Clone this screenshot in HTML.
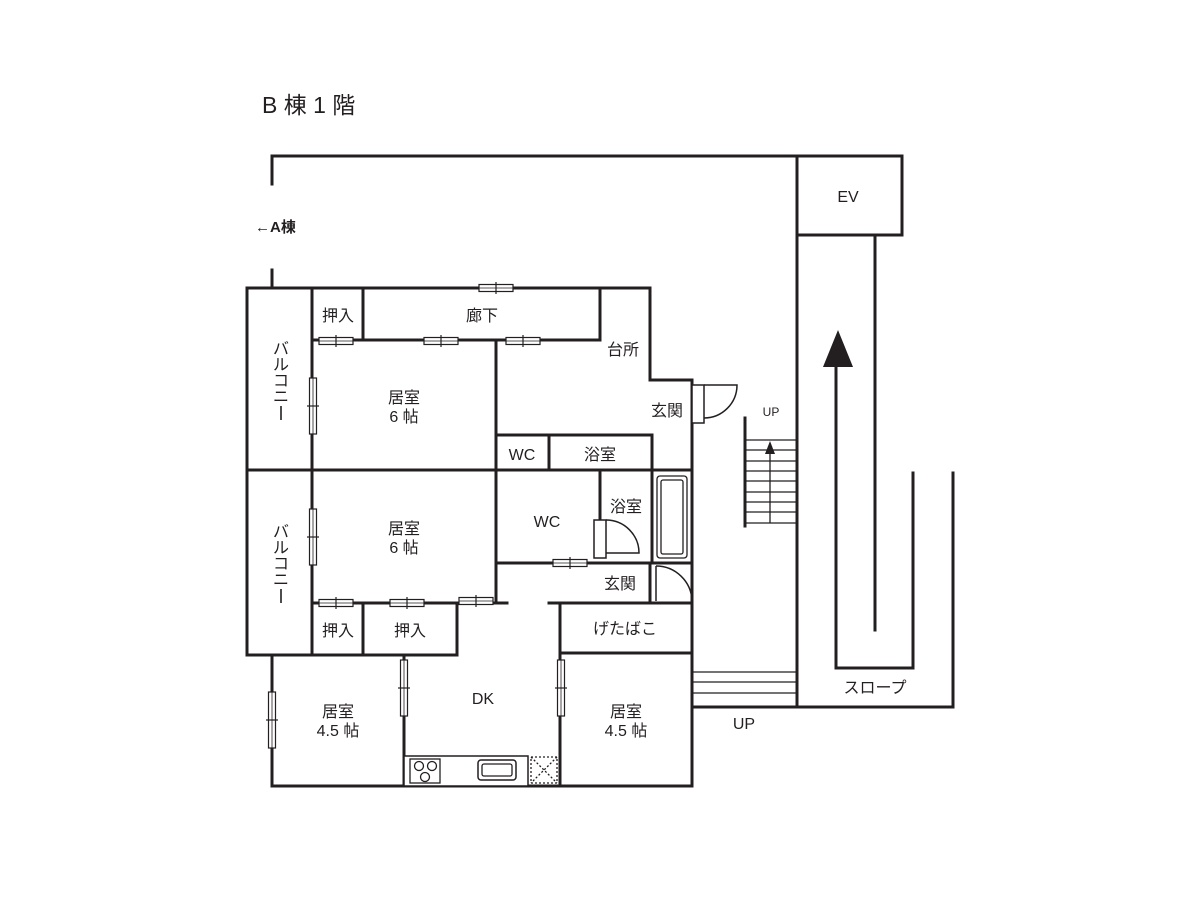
<!DOCTYPE html>
<html><head><meta charset="utf-8"><style>
html,body{margin:0;padding:0;background:#fff}
svg{display:block}
text{font-family:"Liberation Sans","Noto Sans CJK JP",sans-serif;fill:#231f20}
</style></head><body>
<svg width="1200" height="900" viewBox="0 0 1200 900" xmlns="http://www.w3.org/2000/svg">
<defs>
<g id="wh"><rect x="-17" y="-3.5" width="34" height="7" fill="#fff" stroke="#231f20" stroke-width="1.2"/><line x1="-17" y1="0" x2="17" y2="0" stroke="#231f20" stroke-width="0.8"/><line x1="0" y1="-6" x2="0" y2="6" stroke="#231f20" stroke-width="1.2"/></g>
<g id="wv"><rect x="-3.5" y="-28" width="7" height="56" fill="#fff" stroke="#231f20" stroke-width="1.2"/><line x1="0" y1="-28" x2="0" y2="28" stroke="#231f20" stroke-width="0.8"/><line x1="-6" y1="0" x2="6" y2="0" stroke="#231f20" stroke-width="1.2"/></g>
</defs>
<text x="262" y="113" font-size="23">B 棟 1 階</text>
<text x="255" y="232" font-size="15" font-weight="bold">←A棟</text>
<g stroke="#231f20" stroke-width="3" fill="none" stroke-linecap="square">
<polyline points="272,184 272,156 797,156"/>
<line x1="272" y1="270" x2="272" y2="288"/>
<rect x="797" y="156" width="105" height="79"/>
<line x1="797" y1="156" x2="797" y2="707"/>
<polyline points="692,707 953,707 953,473"/>
<line x1="875" y1="235" x2="875" y2="630"/>
<polyline points="836,367 836,668 913,668 913,473"/>
<polyline points="247,288 650,288 650,380 692,380 692,563"/>
<line x1="247" y1="288" x2="247" y2="655"/>
<line x1="247" y1="655" x2="457" y2="655"/>
<line x1="312" y1="288" x2="312" y2="655"/>
<line x1="247" y1="470" x2="496" y2="470"/>
<line x1="363" y1="288" x2="363" y2="340"/>
<polyline points="312,340 600,340 600,288"/>
<line x1="496" y1="340" x2="496" y2="603"/>
<rect x="496" y="435" width="156" height="35"/>
<line x1="549" y1="435" x2="549" y2="470"/>
<line x1="600" y1="470" x2="600" y2="520"/>
<line x1="496" y1="563" x2="692" y2="563"/>
<rect x="652" y="470" width="40" height="93"/>
<line x1="312" y1="603" x2="507" y2="603"/>
<line x1="549" y1="603" x2="692" y2="603"/>
<line x1="650" y1="563" x2="650" y2="603"/>
<line x1="692" y1="563" x2="692" y2="786"/>
<line x1="363" y1="603" x2="363" y2="655"/>
<line x1="457" y1="603" x2="457" y2="655"/>
<line x1="560" y1="603" x2="560" y2="786"/>
<line x1="560" y1="653" x2="692" y2="653"/>
<line x1="272" y1="655" x2="272" y2="786"/>
<line x1="272" y1="786" x2="692" y2="786"/>
<line x1="404" y1="655" x2="404" y2="786"/>
<line x1="745" y1="418" x2="745" y2="526"/>
</g>
<g stroke="#231f20" stroke-width="1.3" fill="none">
<line x1="745" y1="440" x2="797" y2="440"/><line x1="745" y1="450" x2="797" y2="450"/><line x1="745" y1="461" x2="797" y2="461"/><line x1="745" y1="471" x2="797" y2="471"/><line x1="745" y1="481" x2="797" y2="481"/><line x1="745" y1="492" x2="797" y2="492"/><line x1="745" y1="502" x2="797" y2="502"/><line x1="745" y1="512" x2="797" y2="512"/><line x1="745" y1="523" x2="797" y2="523"/>
<line x1="770" y1="450" x2="770" y2="523"/>
<line x1="692" y1="672" x2="797" y2="672"/><line x1="692" y1="682" x2="797" y2="682"/><line x1="692" y1="693" x2="797" y2="693"/>
<rect x="692" y="385" width="12" height="38" fill="#fff" stroke-width="1.5"/>
<path d="M704,385 L737,385 A33,33 0 0 1 704,418" stroke-width="1.5"/>
<rect x="594" y="520" width="12" height="38" fill="#fff" stroke-width="1.5"/>
<path d="M606,520 A33,33 0 0 1 639,553 L606,553" stroke-width="1.5"/>
<line x1="656" y1="566" x2="656" y2="601" stroke-width="1.5"/>
<path d="M656,566 A36,36 0 0 1 692,601" stroke-width="1.5"/>
<rect x="657" y="476" width="30" height="82" rx="3"/>
<rect x="661" y="480" width="22" height="74" rx="2"/>
<rect x="404" y="756" width="124" height="30" fill="#fff" stroke-width="1.5"/>
<rect x="410" y="759" width="30" height="24"/>
<circle cx="419" cy="766" r="4.5"/><circle cx="432" cy="766" r="4.5"/><circle cx="425" cy="777" r="4.5"/>
<rect x="478" y="760" width="38" height="20" rx="3" stroke-width="1.5"/>
<rect x="482" y="764" width="30" height="12" rx="2"/>
<rect x="531" y="757" width="26" height="26" stroke-dasharray="2,2"/>
<line x1="531" y1="757" x2="557" y2="783" stroke-dasharray="2,2"/><line x1="557" y1="757" x2="531" y2="783" stroke-dasharray="2,2"/>
<line x1="281" y1="406" x2="281" y2="420" stroke-width="1.6"/>
<line x1="281" y1="589" x2="281" y2="603" stroke-width="1.6"/>
</g>
<polygon points="770,441 765,454 775,454" fill="#231f20"/>
<polygon points="838,330 823,367 853,367" fill="#231f20"/>
<use href="#wh" x="496" y="288"/>
<use href="#wh" x="336" y="341"/><use href="#wh" x="441" y="341"/><use href="#wh" x="523" y="341"/>
<use href="#wh" x="336" y="603"/><use href="#wh" x="407" y="603"/><use href="#wh" x="476" y="601"/>
<use href="#wh" x="570" y="563"/>
<use href="#wv" x="313" y="406"/><use href="#wv" x="313" y="537"/>
<use href="#wv" x="272" y="720"/><use href="#wv" x="404" y="688"/><use href="#wv" x="561" y="688"/>
<g font-size="16" text-anchor="middle">
<text x="338" y="321">押入</text>
<text x="482" y="321">廊下</text>
<text x="623" y="355">台所</text>
<text x="667" y="416">玄関</text>
<text x="404" y="403">居室</text><text x="404" y="422">6 帖</text>
<text x="404" y="534">居室</text><text x="404" y="553">6 帖</text>
<text x="522" y="460">WC</text>
<text x="600" y="460">浴室</text>
<text x="547" y="527">WC</text>
<text x="626" y="512">浴室</text>
<text x="620" y="589">玄関</text>
<text x="625" y="634">げたばこ</text>
<text x="338" y="636">押入</text><text x="410" y="636">押入</text>
<text x="483" y="704">DK</text>
<text x="338" y="717">居室</text><text x="338" y="736">4.5 帖</text>
<text x="626" y="717">居室</text><text x="626" y="736">4.5 帖</text>
<text x="848" y="202">EV</text>
<text x="875" y="693">スロープ</text>
<text x="744" y="729">UP</text>
</g>
<text x="771" y="416" font-size="12" text-anchor="middle">UP</text>
<g font-size="16" text-anchor="middle">
<text x="281" y="354">バ</text><text x="281" y="370">ル</text><text x="281" y="386">コ</text><text x="281" y="402">ニ</text>
<text x="281" y="537">バ</text><text x="281" y="553">ル</text><text x="281" y="569">コ</text><text x="281" y="585">ニ</text>
</g>
</svg>
</body></html>
